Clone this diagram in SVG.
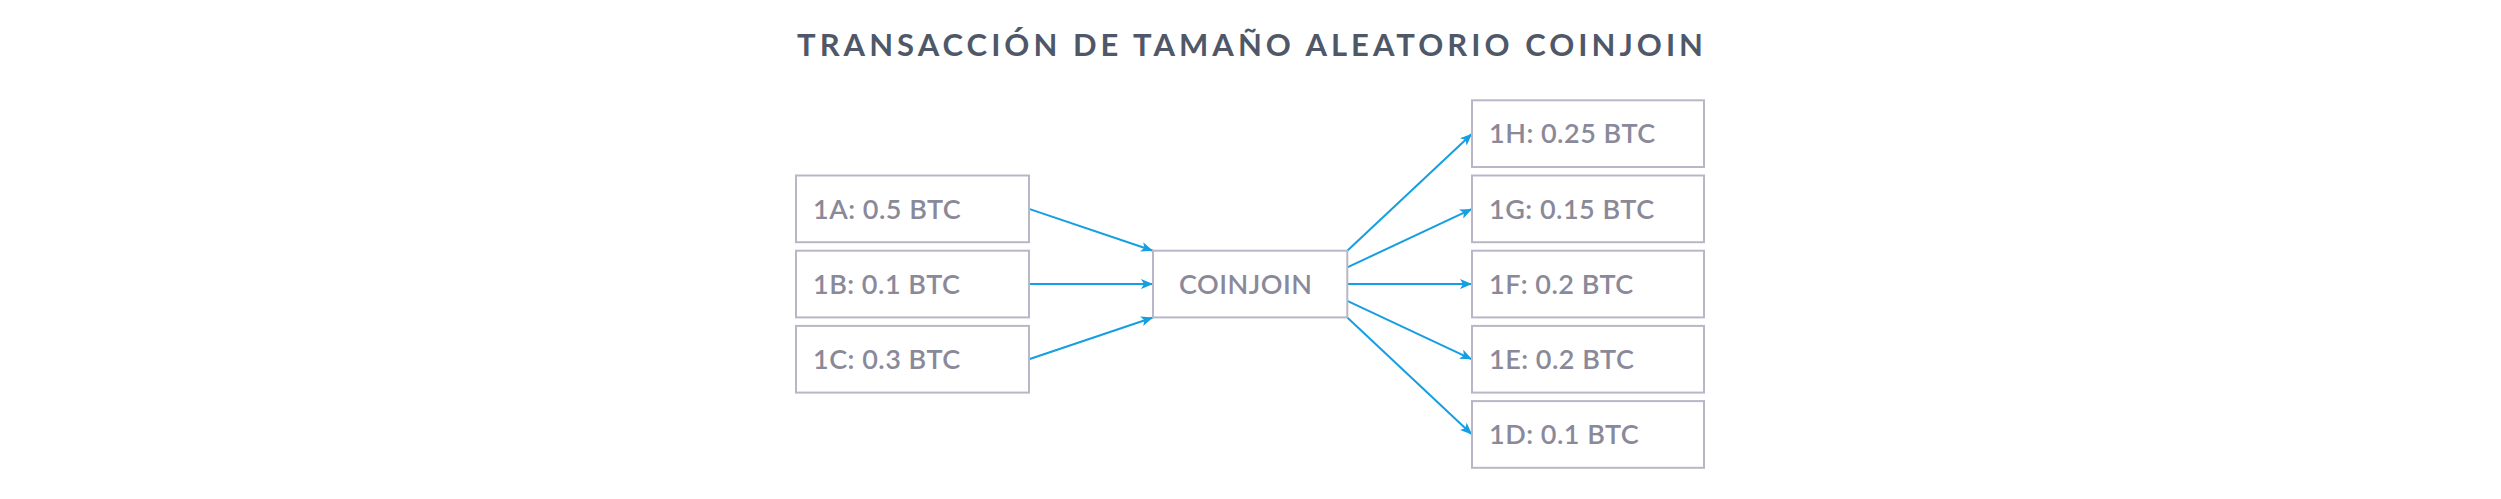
<svg xmlns="http://www.w3.org/2000/svg" width="2501" height="499" viewBox="0 0 2501 499">
<style>
.box{fill:#ffffff;stroke:#b8b7c7;stroke-width:2}
.lbl{font-family:Lato,"Liberation Sans",sans-serif;font-weight:600;font-size:27px;letter-spacing:0.5px;fill:#8a8999}
.ttl{font-family:Lato,"Liberation Sans",sans-serif;font-weight:700;font-size:31px;fill:#4f5869}
.edge{fill:none;stroke:#159ee2;stroke-width:2}
</style>
<defs>
<marker id="arr" viewBox="0 0 12 10" refX="12" refY="5" markerWidth="12" markerHeight="10" markerUnits="userSpaceOnUse" orient="auto">
<path d="M0,0 L12,5 L0,10 L3,5 Z" fill="#159ee2"/>
</marker>
</defs>
<rect width="2501" height="499" fill="#ffffff"/>
<text class="ttl" x="797" y="56" textLength="906" lengthAdjust="spacing">TRANSACCIÓN DE TAMAÑO ALEATORIO COINJOIN</text>
<g id="connectors">
<line class="edge" x1="1029" y1="208.9" x2="1153" y2="250.7" marker-end="url(#arr)"/>
<line class="edge" x1="1029" y1="284.1" x2="1153" y2="284.1" marker-end="url(#arr)"/>
<line class="edge" x1="1029" y1="359.3" x2="1153" y2="317.5" marker-end="url(#arr)"/>
<line class="edge" x1="1347.3" y1="250.7" x2="1472" y2="133.7" marker-end="url(#arr)"/>
<line class="edge" x1="1347.3" y1="267.4" x2="1472" y2="208.9" marker-end="url(#arr)"/>
<line class="edge" x1="1347.3" y1="284.1" x2="1472" y2="284.1" marker-end="url(#arr)"/>
<line class="edge" x1="1347.3" y1="300.8" x2="1472" y2="359.3" marker-end="url(#arr)"/>
<line class="edge" x1="1347.3" y1="317.5" x2="1472" y2="434.5" marker-end="url(#arr)"/>
</g>
<g id="n1A"><rect class="box" x="796" y="175.5" width="233" height="66.7"/><text class="lbl" x="813" y="218.5">1A: 0.5 BTC</text></g>
<g id="n1B"><rect class="box" x="796" y="250.7" width="233" height="66.7"/><text class="lbl" x="813" y="293.7">1B: 0.1 BTC</text></g>
<g id="n1C"><rect class="box" x="796" y="325.9" width="233" height="66.7"/><text class="lbl" x="813" y="368.9">1C: 0.3 BTC</text></g>
<g id="coinjoin"><rect class="box" x="1153" y="250.7" width="194.3" height="66.7"/><text class="lbl" x="1179" y="293.7">COINJOIN</text></g>
<g id="n1H"><rect class="box" x="1472" y="100.3" width="232" height="66.7"/><text class="lbl" x="1489" y="143.3">1H: 0.25 BTC</text></g>
<g id="n1G"><rect class="box" x="1472" y="175.5" width="232" height="66.7"/><text class="lbl" x="1489" y="218.5">1G: 0.15 BTC</text></g>
<g id="n1F"><rect class="box" x="1472" y="250.7" width="232" height="66.7"/><text class="lbl" x="1489" y="293.7">1F: 0.2 BTC</text></g>
<g id="n1E"><rect class="box" x="1472" y="325.9" width="232" height="66.7"/><text class="lbl" x="1489" y="368.9">1E: 0.2 BTC</text></g>
<g id="n1D"><rect class="box" x="1472" y="401.1" width="232" height="66.7"/><text class="lbl" x="1489" y="444.1">1D: 0.1 BTC</text></g>
</svg>
